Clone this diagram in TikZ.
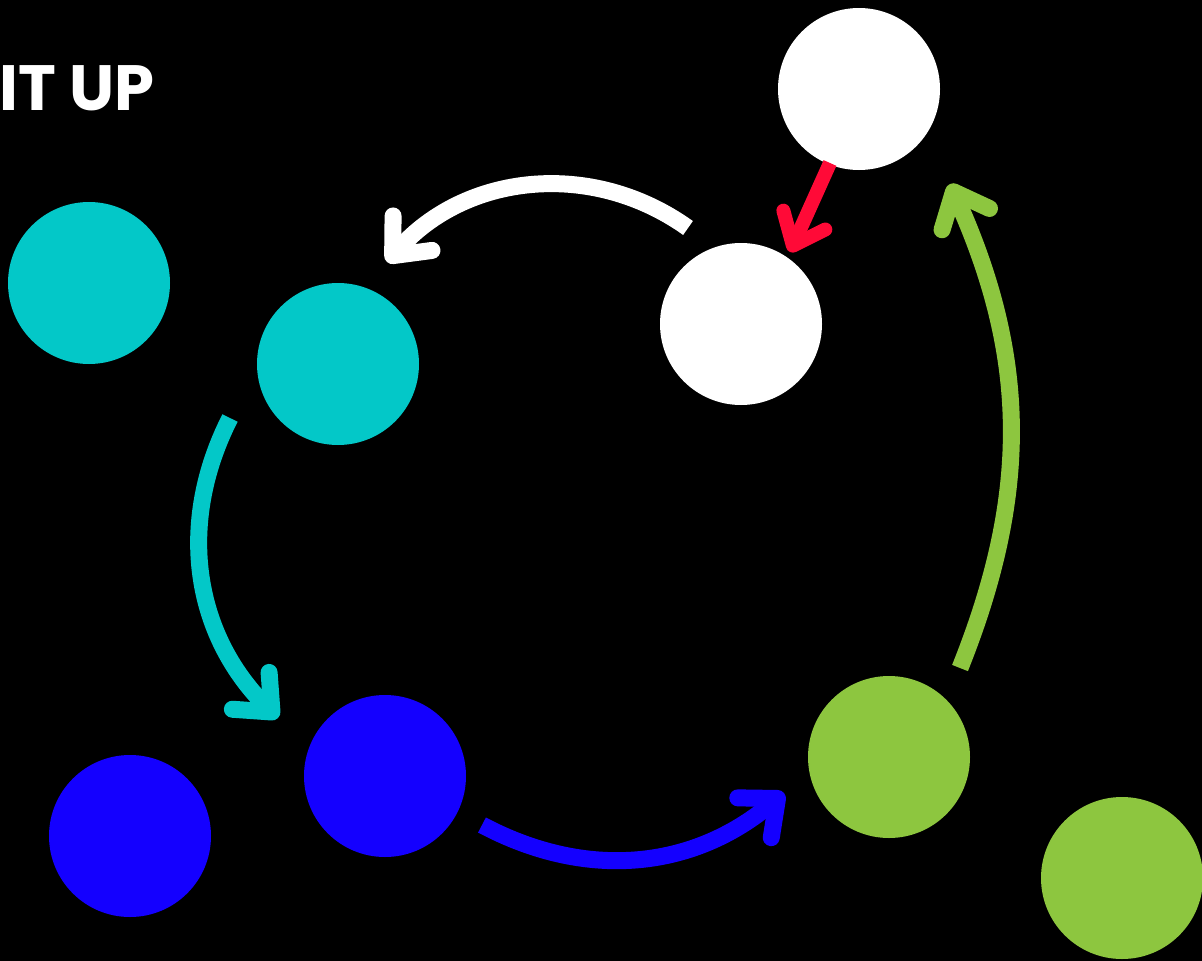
\documentclass[tikz,border=0pt]{standalone}
\usepackage{fontspec}
\newfontfamily\popfont{Poppins}
\usetikzlibrary{arrows.meta,calc}
\definecolor{cteal}{HTML}{03C8C8}
\definecolor{cblue}{HTML}{1400FF}
\definecolor{cgreen}{HTML}{8DC63F}
\definecolor{cred}{HTML}{FF0A37}
\begin{document}
\begin{tikzpicture}[x=1pt,y=-1pt,
  dot/.style={circle,minimum size=162pt,inner sep=0pt,outer sep=0pt},
  flow/.style={line width=17pt,-{Straight Barb[round,length=30pt,width=52pt]}}]
\fill[black] (0,0) rectangle (1202,961);
\useasboundingbox (0,0) rectangle (1202,961);
\node[anchor=base east,text=white,inner sep=0pt,font=\popfont\bfseries\fontsize{64}{72}\selectfont] (title) at (155,110) {IT UP};
\node[dot,fill=white] (wt) at (859,89) {};
\node[dot,fill=white] (wm) at (741,324) {};
\node[dot,fill=cteal] (tl) at (89,283) {};
\node[dot,fill=cteal] (tm) at (338,364) {};
\node[dot,fill=cblue] (bm) at (385,776) {};
\node[dot,fill=cblue] (bl) at (130,836) {};
\node[dot,fill=cgreen] (gm) at (889,757) {};
\node[dot,fill=cgreen] (gr) at (1122,878) {};
% connector ends
\coordinate (ws) at ($(wm)+(-53,-96)$);
\coordinate (we) at ($(tm)+(49,-102)$);
\coordinate (rs) at ($(wt)+(-29,74)$);
\coordinate (re) at ($(wm)+(49,-72)$);
\coordinate (ts) at ($(tm)+(-108,54)$);
\coordinate (te) at ($(bm)+(-107,-58)$);
\coordinate (bs) at ($(bm)+(97,49)$);
\coordinate (be) at ($(gm)+(-105,36)$);
\coordinate (gs) at ($(gm)+(71,-89)$);
\coordinate (ge) at ($(wt)+(91,95)$);
% connectors
\draw[flow,white] (ws) to[bend right=42] (we);
\draw[flow,cred,line width=14pt,-{Straight Barb[round,length=28pt,width=46pt]}] (rs) -- (re);
\draw[flow,cteal] (ts) to[bend right=36] (te);
\draw[flow,cblue] (bs) to[bend right=34] (be);
\draw[flow,cgreen] (gs) to[bend right=23] (ge);
\end{tikzpicture}
\end{document}
